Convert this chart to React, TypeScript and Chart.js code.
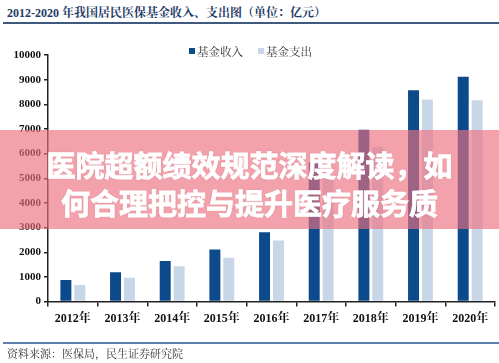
import React, { useEffect, useRef } from "react";
import { Chart, registerables } from "chart.js";

Chart.register(...registerables);

const categories = ["2012年", "2013年", "2014年", "2015年", "2016年", "2017年", "2018年", "2019年", "2020年"];
const income = [877, 1187, 1649, 2109, 2811, 5653, 6971, 8575, 9115];
const expense = [675, 971, 1437, 1781, 2480, 4955, 6277, 8191, 8165];
const seriesNames = ["基金收入", "基金支出"];
const seriesColors = ["#0D4A8C", "#C8D7E7"];
const headerText = "2012-2020 年我国居民医保基金收入、支出图（单位：亿元）";
const sourceText = "资料来源：医保局，民生证券研究院";
const bannerLines = ["医院超额绩效规范深度解读，如", "何合理把控与提升医疗服务质"];

const SERIF = "'Times New Roman', 'Liberation Serif', 'Noto Serif CJK SC', 'Noto Sans CJK SC', serif";

export default function App() {
  const ref = useRef<HTMLCanvasElement | null>(null);

  useEffect(() => {
    document.body.style.margin = "0";
    const ctx = ref.current!;
    const chart = new Chart(ctx, {
      type: "bar",
      data: {
        labels: categories,
        datasets: [
          {
            label: seriesNames[0],
            data: income,
            backgroundColor: seriesColors[0],
            categoryPercentage: 0.56,
            barPercentage: 0.79,
          },
          {
            label: seriesNames[1],
            data: expense,
            backgroundColor: seriesColors[1],
            categoryPercentage: 0.56,
            barPercentage: 0.79,
          },
        ],
      },
      options: {
        animation: false,
        responsive: false,
        maintainAspectRatio: false,
        layout: { padding: { left: 0, right: 4, top: 25, bottom: 29 } },
        plugins: {
          legend: { display: false },
          tooltip: { enabled: false },
        },
        scales: {
          x: {
            offset: true,
            grid: {
              display: true,
              drawOnChartArea: false,
              offset: true,
              tickLength: 5,
              color: "#222",
              lineWidth: 1.5,
            },
            border: { display: true, color: "#222", width: 1.5 },
            ticks: {
              color: "#111",
              padding: 5,
              font: { family: SERIF, size: 12, weight: "bold" },
              maxRotation: 0,
            },
          },
          y: {
            min: 0,
            max: 10000,
            grid: {
              display: true,
              drawOnChartArea: false,
              tickLength: 4,
              color: "#222",
              lineWidth: 1.5,
            },
            border: { display: true, color: "#222", width: 1.5 },
            ticks: {
              stepSize: 1000,
              color: "#111",
              padding: 3,
              font: { family: SERIF, size: 11, weight: "bold" },
              callback: (v: any) => String(v),
            },
            afterFit: (axis: any) => {
              axis.width = 48;
            },
          },
        },
      },
    });
    return () => chart.destroy();
  }, []);

  return (
    <div style={{ position: "absolute", left: 0, top: 0, width: 499, height: 363, background: "#fff", overflow: "hidden" }}>
      <div
        style={{
          position: "absolute",
          left: 7,
          top: 4,
          fontFamily: SERIF,
          fontWeight: "bold",
          fontSize: 12,
          lineHeight: "18px",
          color: "#1F3B66",
          whiteSpace: "nowrap",
        }}
      >
        {headerText}
      </div>
      <div style={{ position: "absolute", left: 3, top: 22, width: 496, height: 1.5, background: "#3F5A7E" }} />
      <canvas ref={ref} width={499} height={330} style={{ position: "absolute", left: 0, top: 30, width: 499, height: 330 }} />
      {seriesNames.map((n, i) => (
        <div
          key={n}
          style={{
            position: "absolute",
            left: 189 + i * 69,
            top: 43,
            height: 16,
            display: "flex",
            alignItems: "center",
            fontFamily: SERIF,
            fontSize: 11.5,
            color: "#333",
            whiteSpace: "nowrap",
          }}
        >
          <span style={{ display: "inline-block", width: 6, height: 6, background: seriesColors[i], marginRight: 2 }} />
          {n}
        </div>
      ))}
      <div style={{ position: "absolute", left: 3, top: 342, width: 496, height: 1.5, background: "#5B7FA8" }} />
      <div
        style={{
          position: "absolute",
          left: 7,
          top: 347,
          fontFamily: SERIF,
          fontSize: 11,
          lineHeight: "15px",
          color: "#333",
          whiteSpace: "nowrap",
        }}
      >
        {sourceText}
      </div>
      <div
        style={{
          position: "absolute",
          left: 0,
          top: 130,
          width: 499,
          height: 99,
          paddingTop: 6,
          boxSizing: "border-box",
          background: "rgba(236,112,128,0.65)",
          display: "flex",
          flexDirection: "column",
          alignItems: "center",
          justifyContent: "center",
        }}
      >
        {bannerLines.map((t, i) => (
          <div
            key={i}
            style={{
              fontFamily: "'Noto Sans CJK SC', sans-serif",
              fontWeight: 700,
              fontSize: 29,
              lineHeight: "38px",
              color: "#fff",
              whiteSpace: "nowrap",
              WebkitTextStroke: "0.8px #fff",
              textShadow: "0 0 2px rgba(120,40,60,0.3)",
            }}
          >
            {t}
          </div>
        ))}
      </div>
    </div>
  );
}
